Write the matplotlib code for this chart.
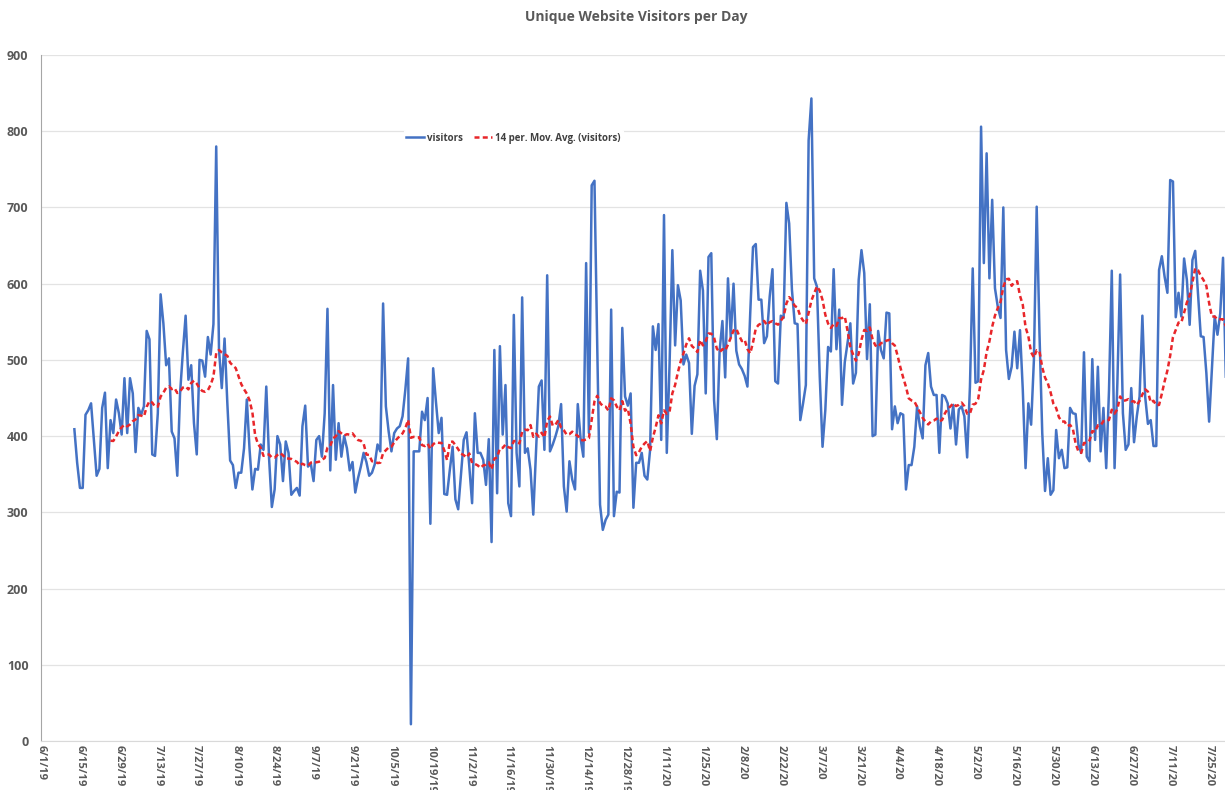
import pandas as pd
from matplotlib import pyplot as plt

start_date = "2019-06-13"

visitors = [
    409, 365, 332, 332, 428, 434, 443, 395, 348, 357,
    437, 457, 358, 421, 404, 448, 430, 402, 476, 404,
    476, 456, 379, 437, 428, 439, 538, 527, 376, 374,
    430, 586, 548, 493, 502, 406, 397, 348, 456, 510,
    558, 474,
    493, 417, 376, 500, 499, 478, 530, 507, 547, 780,
    513, 463, 528, 443, 368, 362, 332, 352, 352, 384,
    448, 382, 330, 357, 356, 389, 382, 465, 371, 307,
    330, 400, 389, 341, 393, 378, 323, 328, 332, 322,
    413,
    440, 360, 364, 341, 395, 400, 373, 430, 567, 355,
    467, 369, 417, 373, 400, 384, 355, 366, 326, 345,
    360, 378, 366, 348, 352, 363, 389, 380, 574, 439,
    406, 380, 404, 410, 413, 426, 461, 502, 22,
    380, 380, 380, 432, 421, 450, 285, 489, 445, 404,
    424, 324, 323, 356, 386, 317, 304, 349, 395, 405,
    360, 312, 430, 378, 378, 369, 336, 396, 261, 513,
    325, 518, 402, 467, 312, 295, 559,
    378, 334, 582, 378, 384, 356, 297, 382, 465, 473,
    382, 611, 380, 389, 400, 413, 442, 334, 301, 367,
    343, 330, 442, 397, 373, 627, 404, 729, 735, 517,
    310, 277, 290, 297, 566, 295, 327, 326, 542, 452,
    440,
    456, 306, 365, 365, 378, 348, 343, 382, 544, 513,
    547, 395, 690, 378, 494, 644, 519, 598, 578, 494,
    507, 496, 403, 466, 481, 617, 591, 456, 635, 640,
    447, 396, 512, 551, 477, 607, 530, 600, 512, 494,
    488, 479,
    465, 561, 648, 652, 579, 579, 522, 531, 583, 619,
    472, 469, 558, 555, 706, 679, 592, 548, 547, 421,
    443, 467, 788, 843, 607, 596, 478, 386, 434, 517,
    511, 619, 514, 566, 441, 497, 522, 548, 469, 483,
    605,
    644, 614, 501, 573, 400, 402, 538, 513, 502, 562,
    561, 409, 439, 417, 430, 428, 330, 362, 362, 386,
    439, 413, 397, 493, 509, 465, 454, 454, 378, 454,
    452, 443, 410, 441, 389, 435, 439, 426, 372, 465,
    620,
    470, 472, 806, 627, 771, 607, 710, 594, 570, 555,
    700, 513, 475, 491, 537, 489, 539, 461, 358, 443,
    415, 500, 701, 535, 404, 328, 371, 323, 329, 408,
    371, 382, 358, 359, 437, 430, 429, 389, 378, 510,
    373, 367,
    501, 395, 491, 380, 437, 358, 460, 617, 358, 469,
    612, 430, 382, 389, 463, 392, 426, 452, 558, 452,
    416, 421, 387, 387, 618, 636, 609, 588, 736, 734,
    556, 588, 557, 633, 605, 546, 631, 643, 587, 531,
    530, 483, 419, 487, 557, 533, 561, 634, 478,
]

tick_labels = [
    "6/1/19", "6/15/19", "6/29/19", "7/13/19", "7/27/19", "8/10/19", "8/24/19",
    "9/7/19", "9/21/19", "10/5/19", "10/19/19", "11/2/19", "11/16/19", "11/30/19",
    "12/14/19", "12/28/19", "1/11/20", "1/25/20", "2/8/20", "2/22/20", "3/7/20",
    "3/21/20", "4/4/20", "4/18/20", "5/2/20", "5/16/20", "5/30/20", "6/13/20",
    "6/27/20", "7/11/20", "7/25/20",
]
y_ticks = [0, 100, 200, 300, 400, 500, 600, 700, 800, 900]

dates = pd.date_range(start_date, periods=len(visitors), freq="D")
tick_dates = pd.date_range("2019-06-01", periods=len(tick_labels), freq="14D")
moving_avg = pd.Series(visitors, index=dates).rolling(14).mean()

plt.rcParams['font.family'] = ['Open Sans', 'DejaVu Sans']
fig = plt.figure(figsize=(12.25, 7.9), dpi=100)
ax = fig.add_axes([41 / 1225, 49 / 790, 1 - 41 / 1225, 686 / 790])

ax.plot(dates, visitors, color="#4472C4", linewidth=1.8, label="visitors")
ax.plot(moving_avg.index, moving_avg.values, color="#E8262A", linewidth=1.8,
        linestyle=(0, (2, 1.3)), label="14 per. Mov. Avg. (visitors)")

ax.set_ylim(0, 900)
ax.set_xlim(pd.Timestamp("2019-06-01"), pd.Timestamp("2020-07-30 17:00"))
ax.set_yticks(y_ticks)
ax.set_yticklabels([str(v) for v in y_ticks], fontsize=9, fontweight="bold", color="#595959")
ax.set_xticks(tick_dates)
ax.set_xticklabels(tick_labels, rotation=270, fontsize=8, fontweight="bold", color="#595959",
                   ha="center", va="top")
ax.tick_params(axis="both", length=0)
ax.tick_params(axis="y", pad=9)
ax.tick_params(axis="x", pad=3)

ax.grid(axis="y", color="#E3E3E3", linewidth=0.9)
ax.set_axisbelow(True)
for side in ["top", "right"]:
    ax.spines[side].set_visible(False)
ax.spines["left"].set_color("#A6A6A6")
ax.spines["bottom"].set_color("#D9D9D9")

leg = ax.legend(loc="center", bbox_to_anchor=(0.399, 0.879), ncol=2, frameon=True,
                handlelength=1.8, handletextpad=0.3, columnspacing=1.2,
                borderpad=0.3, prop={"weight": "bold", "size": 7})
leg.get_frame().set_edgecolor("white")
leg.get_frame().set_facecolor("white")
leg.get_frame().set_alpha(1)
for text in leg.get_texts():
    text.set_color("#404040")

fig.text(636 / 1225, 1 - 17 / 790, "Unique Website Visitors per Day", ha="center", va="center",
         fontsize=10, fontweight="bold", color="#595959")

plt.savefig("out.png", dpi=100)
